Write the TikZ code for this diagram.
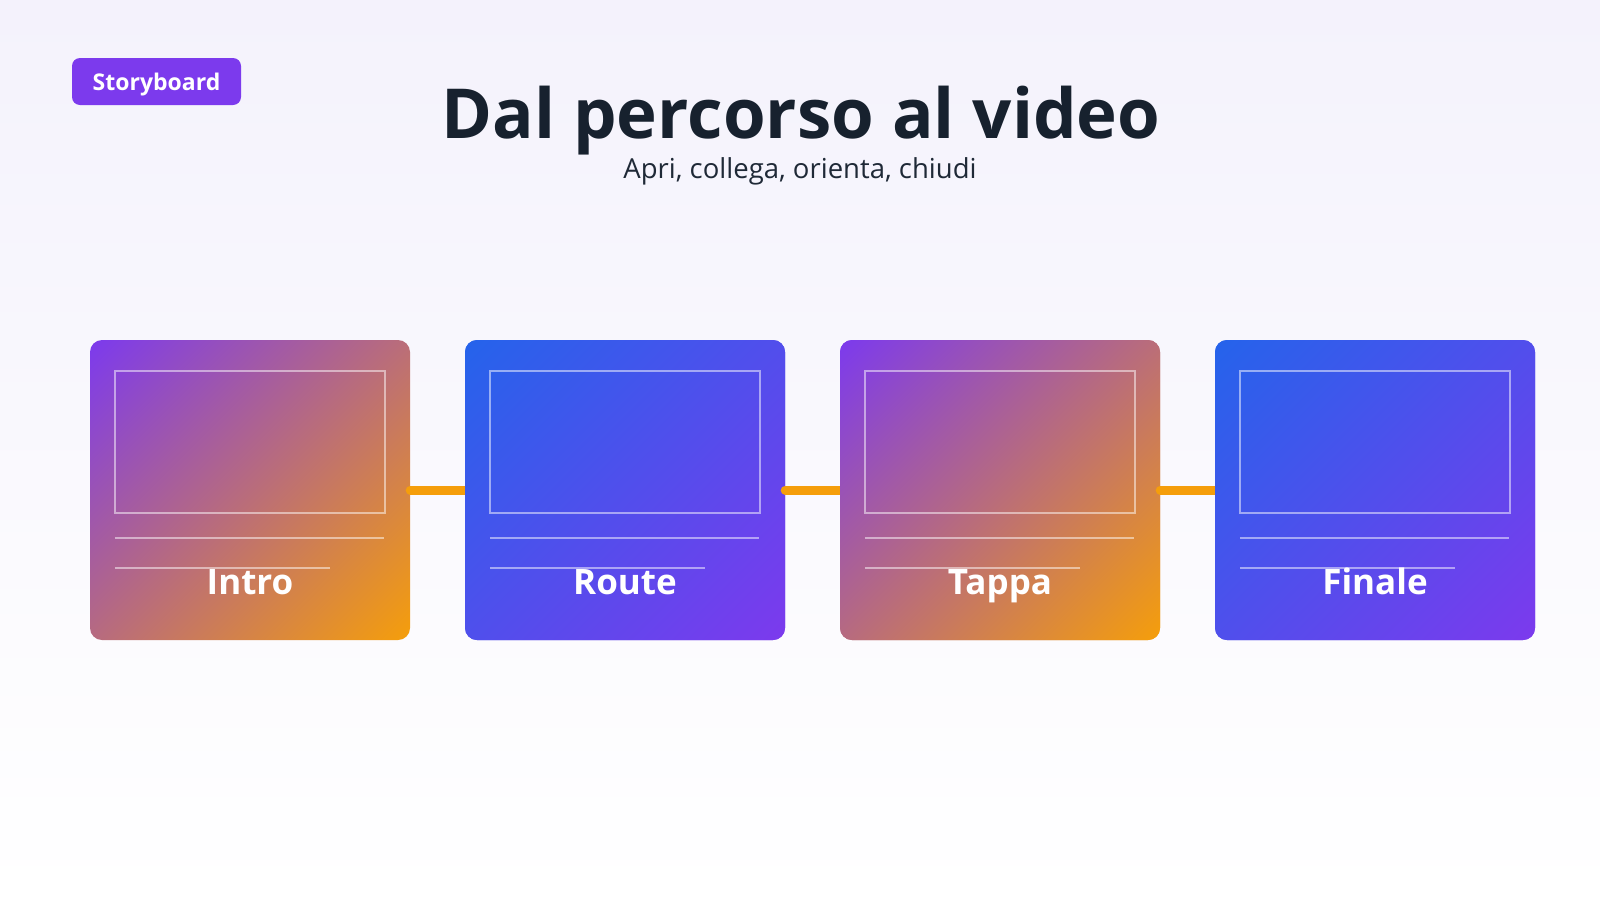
\documentclass[tikz,border=0pt]{standalone}
\usepackage{fontspec}
\setmainfont{Open Sans}
\usetikzlibrary{calc}
\definecolor{purp}{HTML}{7C3AED}
\definecolor{amber}{HTML}{F59E0B}
\definecolor{blu}{HTML}{2563EB}
\definecolor{ink}{HTML}{17212E}
\definecolor{subink}{HTML}{1F2937}
\definecolor{bgtop}{HTML}{F4F2FC}
\pgfdeclareverticalshading{cardA}{100bp}{color(0bp)=(amber); color(14.6bp)=(amber); color(85.4bp)=(purp); color(100bp)=(purp)}
\pgfdeclareverticalshading{cardB}{100bp}{color(0bp)=(purp); color(14.6bp)=(purp); color(85.4bp)=(blu); color(100bp)=(blu)}
\tikzset{
  card/.style={shade, shading=#1, shading angle=45, rounded corners=12pt, minimum width=320pt, minimum height=300pt, inner sep=0pt},
  frame/.style={draw=white, draw opacity=0.5, line width=2.5pt},
  rule/.style={draw=white, draw opacity=0.5, line width=2.5pt},
  conn/.style={draw=amber, line width=9pt, line cap=round},
  lab/.style={text=white, font=\fontsize{35}{40}\selectfont\bfseries, anchor=base, inner sep=0pt},
  badge/.style={fill=purp, rounded corners=8pt, minimum width=169pt, minimum height=47pt, inner sep=0pt, text depth=0pt, text=white, font=\fontsize{23}{26}\selectfont\bfseries},
}
\begin{document}
\begin{tikzpicture}[x=1pt,y=-1pt]
\useasboundingbox (0,0) rectangle (1600,900);
\shade[top color=bgtop, bottom color=white] (0,0) rectangle (1600,900);

\node[badge] (badge) at (156.5,81.5) {Storyboard};
\node[anchor=base, inner sep=0pt, text=ink, font=\fontsize{69}{80}\selectfont\bfseries] (title) at (801,138) {Dal percorso al video};
\node[anchor=base, inner sep=0pt, text=subink, font=\fontsize{27.5}{32}\selectfont] (sub) at (800,178) {Apri, collega, orienta, chiudi};

\foreach \i/\lab/\sh in {1/Intro/cardA, 2/Route/cardB, 3/Tappa/cardA, 4/Finale/cardB}{
  \pgfmathsetmacro{\cx}{250+375*(\i-1)}
  \node[card=\sh] (c\i) at (\cx,490) {};
  \ifnum\i>1
    \pgfmathtruncatemacro{\j}{\i-1}
    \draw[conn] (c\j.east) -- (c\i.west);
    \node[card=\sh] at (c\i) {};
  \fi
  \draw[frame] ($(c\i.north west)+(25,31)$) rectangle ($(c\i.north east)+(-25,173)$);
  \draw[rule] ($(c\i.north west)+(25,198)$) -- ($(c\i.north east)+(-26,198)$);
  \draw[rule] ($(c\i.north west)+(25,228)$) -- ($(c\i.north west)+(240,228)$);
  \node[lab] (l\i) at (\cx,594) {\lab};
}
\end{tikzpicture}
\end{document}
